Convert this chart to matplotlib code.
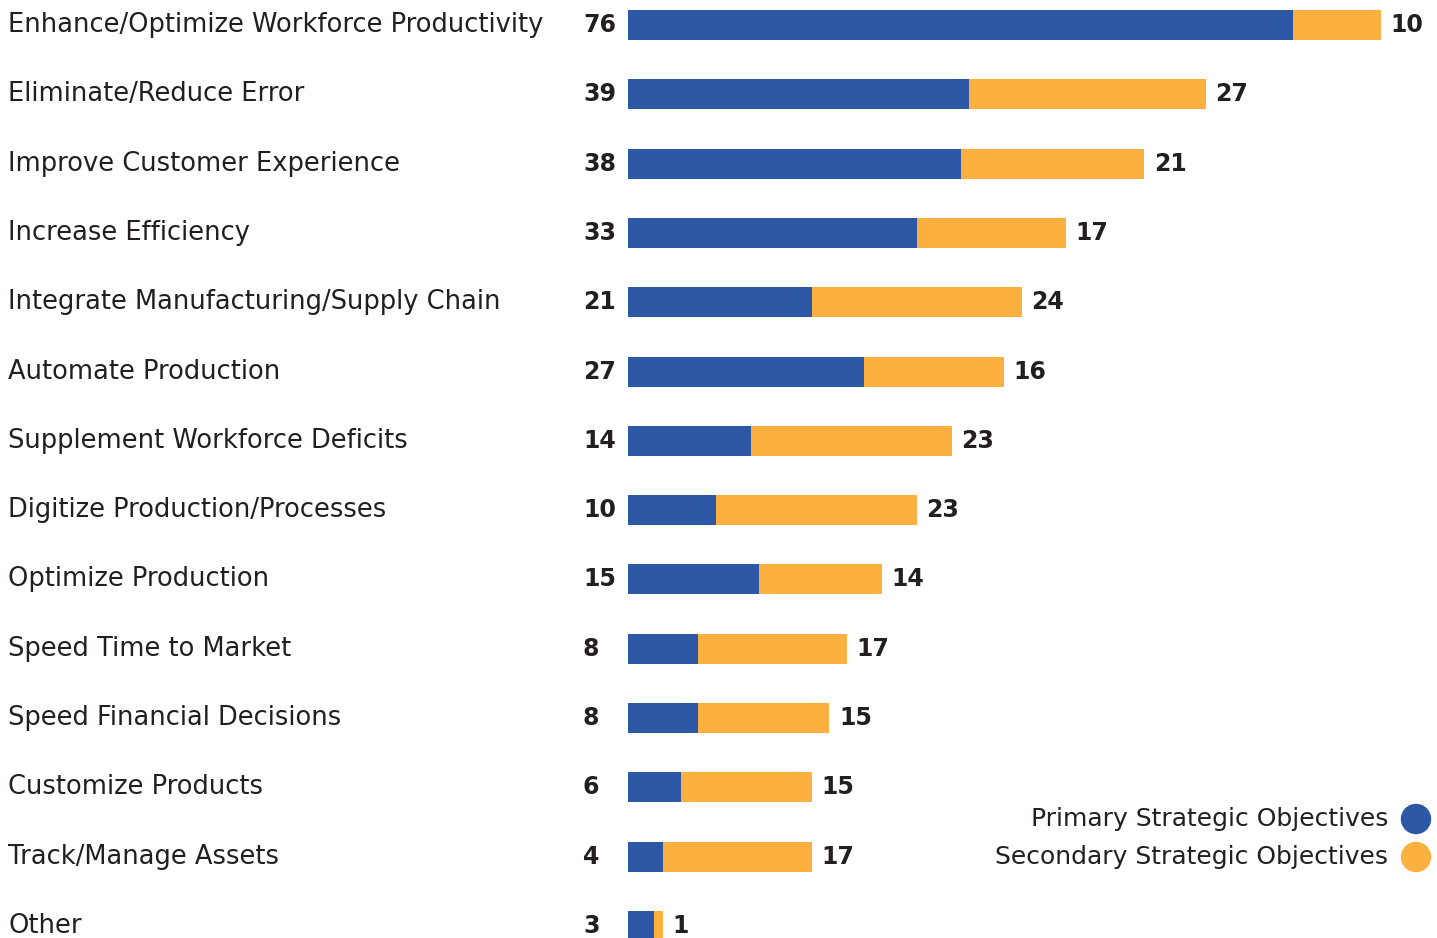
import matplotlib.pyplot as plt
from matplotlib.patches import Ellipse

# Strategic objectives (count of respondents)
categories = [
    "Enhance/Optimize Workforce Productivity",
    "Eliminate/Reduce Error",
    "Improve Customer Experience",
    "Increase Efficiency",
    "Integrate Manufacturing/Supply Chain",
    "Automate Production",
    "Supplement Workforce Deficits",
    "Digitize Production/Processes",
    "Optimize Production",
    "Speed Time to Market",
    "Speed Financial Decisions",
    "Customize Products",
    "Track/Manage Assets",
    "Other",
]
primary = [76, 39, 38, 33, 21, 27, 14, 10, 15, 8, 8, 6, 4, 3]
secondary = [10, 27, 21, 17, 24, 16, 23, 23, 14, 17, 15, 15, 17, 1]
series_names = ["Primary Strategic Objectives", "Secondary Strategic Objectives"]

BLUE = "#2D58A6"
ORANGE = "#FBB040"
TEXT = "#231F20"

plt.rcParams['font.family'] = ['DejaVu Sans']

W, H = 1437, 938
fig = plt.figure(figsize=(W / 100, H / 100), dpi=100)
ax = fig.add_axes([0, 0, 1, 1])

# pixel layout -> data units
px_unit = 8.75      # pixels per count
x0_px = 628         # where bars start
row_px = 69.3       # row pitch
first_px = 25       # centre of first row

ax.set_xlim(-x0_px / px_unit, (W - x0_px) / px_unit)
ax.set_ylim((H - first_px) / row_px, -first_px / row_px)
ax.axis('off')

ys = list(range(len(categories)))
bar_h = 30 / row_px
ax.barh(ys, primary, height=bar_h, color=BLUE)
ax.barh(ys, secondary, left=primary, height=bar_h, color=ORANGE)

fs = 18.5
nfs = 17
for y, cat, p, s in zip(ys, categories, primary, secondary):
    ax.text(-(x0_px - 8) / px_unit, y, cat, ha='left', va='center',
            fontsize=fs, color=TEXT)
    ax.text(-(x0_px - 583) / px_unit, y, str(p), ha='left', va='center',
            fontsize=nfs, fontweight='bold', color=TEXT)
    ax.text(p + s + 1.1, y, str(s), ha='left', va='center',
            fontsize=nfs, fontweight='bold', color=TEXT)

# legend: label on the left, dot on the right
for name, col, ypx in zip(series_names, [BLUE, ORANGE], [819, 857]):
    fig.text(1388 / W, 1 - ypx / H, name, ha='right', va='center',
             fontsize=18, color=TEXT)
    fig.add_artist(Ellipse((1416 / W, 1 - ypx / H), 29 / W, 29 / H,
                           color=col, transform=fig.transFigure))

fig.savefig("out.png", dpi=100)
